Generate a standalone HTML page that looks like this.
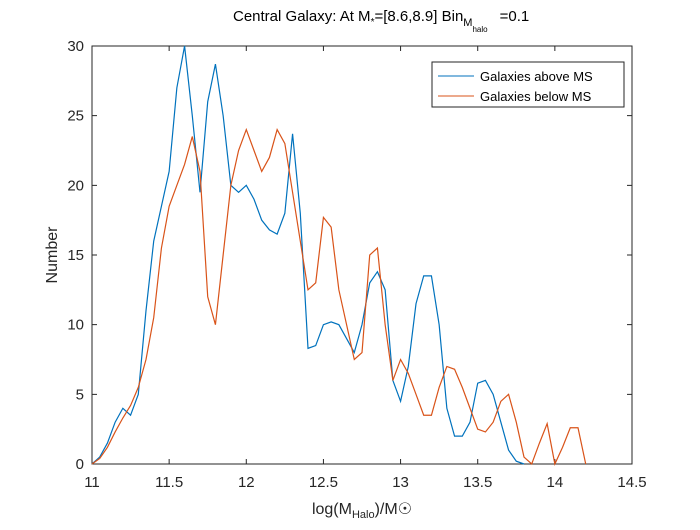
<!DOCTYPE html>
<html><head><meta charset="utf-8"><style>
body{margin:0;background:#fff;}
svg{font-family:"Liberation Sans",sans-serif;}
</style></head><body>
<svg id="chart" width="700" height="525" viewBox="0 0 700 525">
<rect width="700" height="525" fill="#fff"/>
<rect x="92" y="46" width="540" height="418" fill="#fff" stroke="#262626" stroke-width="1"/>
<g id="xticks"></g>
<g id="yticks"></g>
<g id="series"></g>
<text x="233" y="21" font-size="15" text-anchor="start" fill="#000">Central Galaxy: At M<tspan font-size="10" dy="4">*</tspan><tspan dy="-4">=[8.6,8.9] Bin</tspan><tspan font-size="11" dy="5">M</tspan><tspan font-size="8" dy="6">halo</tspan><tspan dy="-11" dx="12">=0.1</tspan></text>
<text x="362" y="514" font-size="16" text-anchor="middle" fill="#262626">log(M<tspan font-size="11" dy="4">Halo</tspan><tspan dy="-4">)/M☉</tspan></text>
<text transform="translate(57,255) rotate(-90)" font-size="16" text-anchor="middle" fill="#262626">Number</text>
<g>
<rect x="432" y="62" width="192" height="45" fill="#fff" stroke="#262626" stroke-width="1"/>
<line x1="438" y1="76" x2="474" y2="76" stroke="#0072BD" stroke-width="1"/>
<text x="480" y="81" font-size="13" fill="#000">Galaxies above MS</text>
<line x1="438" y1="96" x2="474" y2="96" stroke="#D95319" stroke-width="1"/>
<text x="480" y="101" font-size="13" fill="#000">Galaxies below MS</text>
</g>
</svg>
<script>
const xTicks=[11,11.5,12,12.5,13,13.5,14,14.5];
const xTickLabels=["11","11.5","12","12.5","13","13.5","14","14.5"];
const yTicks=[0,5,10,15,20,25,30];
const yTickLabels=["0","5","10","15","20","25","30"];
const xAbove=[11,11.05,11.1,11.15,11.2,11.25,11.3,11.35,11.4,11.45,11.5,11.55,11.6,11.65,11.7,11.75,11.8,11.85,11.9,11.95,12,12.05,12.1,12.15,12.2,12.25,12.3,12.35,12.4,12.45,12.5,12.55,12.6,12.65,12.7,12.75,12.8,12.85,12.9,12.95,13,13.05,13.1,13.15,13.2,13.25,13.3,13.35,13.4,13.45,13.5,13.55,13.6,13.65,13.7,13.75,13.8];
const yAbove=[0,0.5,1.5,3,4,3.5,5,11,16,18.5,21,27,30,25,19.5,26,28.7,25,20,19.5,20,19,17.5,16.8,16.5,18,23.7,18,8.3,8.5,10,10.2,10,9,8,10,13,13.8,12.5,6,4.5,7,11.5,13.5,13.5,10,4,2,2,3,5.8,6,5,3,1,0.2,0];
const xBelow=[11,11.05,11.1,11.15,11.2,11.25,11.3,11.35,11.4,11.45,11.5,11.55,11.6,11.65,11.7,11.75,11.8,11.85,11.9,11.95,12,12.05,12.1,12.15,12.2,12.25,12.3,12.35,12.4,12.45,12.5,12.55,12.6,12.65,12.7,12.75,12.8,12.85,12.9,12.95,13,13.05,13.1,13.15,13.2,13.25,13.3,13.35,13.4,13.45,13.5,13.55,13.6,13.65,13.7,13.75,13.8,13.85,13.9,13.95,14,14.05,14.1,14.15,14.2];
const yBelow=[0,0.4,1.2,2.3,3.3,4.2,5.5,7.5,10.5,15.5,18.5,20,21.5,23.5,21,12,10,15,20,22.5,24,22.5,21,22,24,23,19.5,16,12.5,13,17.7,17,12.5,10,7.5,8,15,15.5,10,6,7.5,6.5,5,3.5,3.5,5.5,7,6.8,5.5,4,2.5,2.3,3,4.5,5,3,0.5,0,1.5,2.9,0,1.2,2.6,2.6,0];
const NS="http://www.w3.org/2000/svg";
const sx=v=>92+(v-11)/3.5*540;
const sy=v=>464-v/30*418;
const xg=document.getElementById('xticks'),yg=document.getElementById('yticks'),sg=document.getElementById('series');
xTicks.forEach((t,i)=>{
  const l=document.createElementNS(NS,'path');
  l.setAttribute('d',`M${sx(t)},464v-5M${sx(t)},46v5`);
  l.setAttribute('stroke','#262626');
  
  
  xg.appendChild(l);
  const tx=document.createElementNS(NS,'text');
  tx.setAttribute('x',sx(t));tx.setAttribute('y',487);
  tx.setAttribute('text-anchor','middle');tx.setAttribute('font-size','15');tx.setAttribute('fill','#262626');
  tx.textContent=xTickLabels[i];
  
  
  xg.appendChild(tx);
});
yTicks.forEach((t,i)=>{
  const l=document.createElementNS(NS,'path');
  l.setAttribute('d',`M92,${sy(t)}h5M632,${sy(t)}h-5`);
  l.setAttribute('stroke','#262626');
  
  
  yg.appendChild(l);
  const tx=document.createElementNS(NS,'text');
  tx.setAttribute('x',84);tx.setAttribute('y',sy(t)+5);
  tx.setAttribute('text-anchor','end');tx.setAttribute('font-size','15');tx.setAttribute('fill','#262626');
  tx.textContent=yTickLabels[i];
  
  
  yg.appendChild(tx);
});
function line(xs,ys,color,name){
  const p=document.createElementNS(NS,'polyline');
  p.setAttribute('points',xs.map((x,i)=>sx(x)+','+sy(ys[i])).join(' '));
  p.setAttribute('fill','none');p.setAttribute('stroke',color);p.setAttribute('stroke-width','1.2');
  
  
  sg.appendChild(p);
}
line(xAbove,yAbove,'#0072BD','line-above-ms');
line(xBelow,yBelow,'#D95319','line-below-ms');
</script>
</body></html>
